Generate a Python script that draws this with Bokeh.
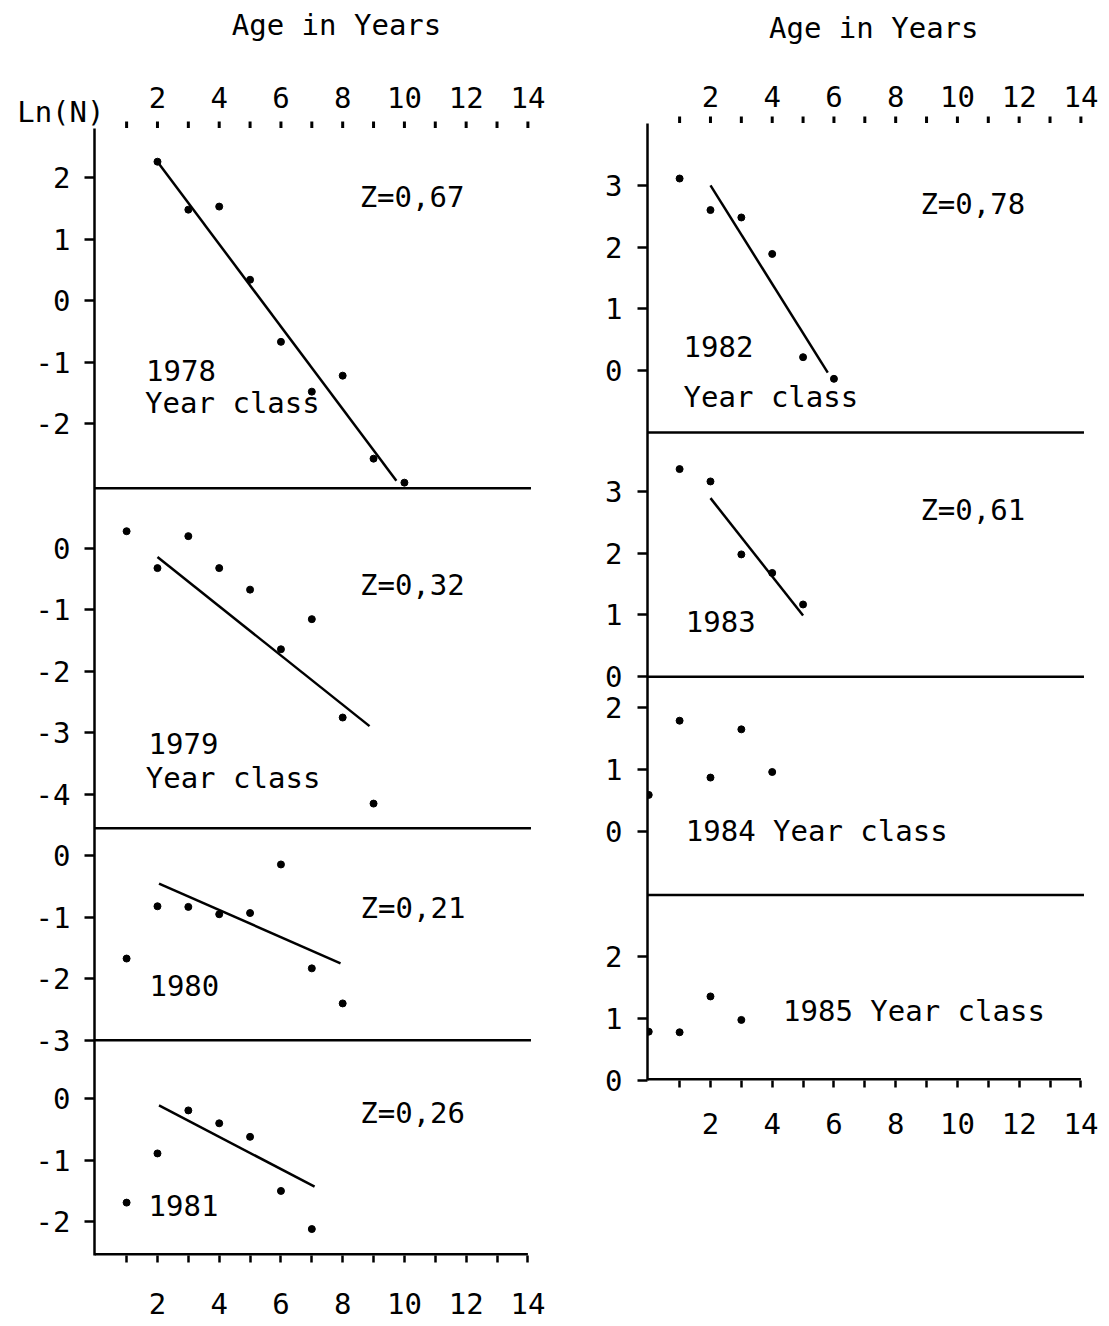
from bokeh.plotting import figure
from bokeh.models import Range1d, FixedTicker
from bokeh.layouts import row, column
from bokeh.embed import file_html
from bokeh.resources import INLINE
from bokeh.core.properties import value

# ---------------- data ----------------
age_1978 = [2, 3, 4, 5, 6, 7, 8, 9, 10]
lnN_1978 = [2.26, 1.48, 1.53, 0.34, -0.67, -1.48, -1.22, -2.57, -2.96]
fit_age_1978 = [2.0, 9.74]
fit_lnN_1978 = [2.26, -2.93]
Z_1978 = "Z=0,67"

age_1979 = [1, 2, 3, 4, 5, 6, 7, 8, 9]
lnN_1979 = [0.28, -0.32, 0.20, -0.32, -0.67, -1.64, -1.15, -2.75, -4.15]
fit_age_1979 = [2.0, 8.87]
fit_lnN_1979 = [-0.14, -2.89]
Z_1979 = "Z=0,32"

age_1980 = [1, 2, 3, 4, 5, 6, 7, 8]
lnN_1980 = [-1.67, -0.82, -0.83, -0.95, -0.93, -0.14, -1.83, -2.40]
fit_age_1980 = [2.05, 7.93]
fit_lnN_1980 = [-0.45, -1.75]
Z_1980 = "Z=0,21"

age_1981 = [1, 2, 3, 4, 5, 6, 7]
lnN_1981 = [-1.69, -0.89, -0.19, -0.40, -0.62, -1.50, -2.12]
fit_age_1981 = [2.05, 7.09]
fit_lnN_1981 = [-0.11, -1.43]
Z_1981 = "Z=0,26"

age_1982 = [1, 2, 3, 4, 5, 6]
lnN_1982 = [3.11, 2.60, 2.48, 1.89, 0.22, -0.13]
fit_age_1982 = [2.0, 5.8]
fit_lnN_1982 = [3.0, -0.03]
Z_1982 = "Z=0,78"

age_1983 = [1, 2, 3, 4, 5]
lnN_1983 = [3.36, 3.16, 1.98, 1.68, 1.17]
fit_age_1983 = [2.0, 5.0]
fit_lnN_1983 = [2.89, 0.99]
Z_1983 = "Z=0,61"

age_1984 = [0, 1, 2, 3, 4]
lnN_1984 = [0.59, 1.79, 0.87, 1.65, 0.96]

age_1985 = [0, 1, 2, 3]
lnN_1985 = [0.79, 0.78, 1.36, 0.98]

yticks_1978 = [2, 1, 0, -1, -2]
yticks_1979 = [0, -1, -2, -3, -4]
yticks_1980 = [0, -1, -2, -3]
yticks_1981 = [0, -1, -2]
yticks_1982 = [3, 2, 1, 0]
yticks_1983 = [3, 2, 1, 0]
yticks_1984 = [2, 1, 0]
yticks_1985 = [2, 1, 0]

age_ticks = list(range(1, 15))
age_tick_labels = {t: (str(t) if t % 2 == 0 else "") for t in age_ticks}

x_title = "Age in Years"
y_title = "Ln(N)"

# ---------------- layout (positions / styles) ----------------
FONT = "DejaVu Sans Mono"
FS = "29px"
LW = 2.5
XMIN, XMAX = -0.04, 14.7      # frame extent in age units
SEP_END = 14.1                # separators end here
AXIS_END = 14.0               # bottom axis line ends at the last tick
UX = 30.9                     # pixels per age unit
FW = int(round((XMAX - XMIN) * UX))

left_panels = [
    dict(name="p1978", ylim=(-3.05, 2.80), ticks=yticks_1978, x=age_1978, y=lnN_1978,
         fx=fit_age_1978, fy=fit_lnN_1978,
         texts=[(8.55, 1.69, Z_1978), (1.63, -1.14, "1978"), (1.60, -1.67, "Year class")]),
    dict(name="p1979", ylim=(-4.55, 0.98), ticks=yticks_1979, x=age_1979, y=lnN_1979,
         fx=fit_age_1979, fy=fit_lnN_1979,
         texts=[(8.56, -0.59, Z_1979), (1.71, -3.18, "1979"), (1.62, -3.74, "Year class")]),
    dict(name="p1980", ylim=(-3.0, 0.45), ticks=yticks_1980, x=age_1980, y=lnN_1980,
         fx=fit_age_1980, fy=fit_lnN_1980,
         texts=[(8.58, -0.85, Z_1980), (1.74, -2.11, "1980")]),
    dict(name="p1981", ylim=(-2.55, 0.95), ticks=yticks_1981, x=age_1981, y=lnN_1981,
         fx=fit_age_1981, fy=fit_lnN_1981,
         texts=[(8.57, -0.24, Z_1981), (1.71, -1.74, "1981")]),
]

right_panels = [
    dict(name="p1982", ylim=(-1.0, 4.0), ticks=yticks_1982, x=age_1982, y=lnN_1982,
         fx=fit_age_1982, fy=fit_lnN_1982,
         texts=[(8.8, 2.69, Z_1982), (1.13, 0.39, "1982"), (1.13, -0.42, "Year class")]),
    dict(name="p1983", ylim=(0.0, 3.95), ticks=yticks_1983, x=age_1983, y=lnN_1983,
         fx=fit_age_1983, fy=fit_lnN_1983,
         texts=[(8.8, 2.70, Z_1983), (1.2, 0.90, "1983")]),
    dict(name="p1984", ylim=(-1.03, 2.5), ticks=yticks_1984, x=age_1984, y=lnN_1984,
         fx=None, fy=None,
         texts=[(1.2, 0.0, "1984 Year class")]),
    dict(name="p1985", ylim=(0.0, 3.0), ticks=yticks_1985, x=age_1985, y=lnN_1985,
         fx=None, fy=None,
         texts=[(4.35, 1.13, "1985 Year class")]),
]


def style_axis(ax):
    ax.axis_line_width = LW
    ax.axis_line_color = "black"
    ax.major_tick_line_width = LW
    ax.major_tick_line_color = "black"
    ax.minor_tick_line_color = None
    ax.major_tick_in = 0
    ax.major_label_text_font = FONT
    ax.major_label_text_font_size = FS
    ax.major_label_text_color = "black"


def text_kw(align="center"):
    return dict(text_font=value(FONT), text_font_size=value(FS), text_color="black",
                text_align=align, text_baseline="middle")


def base_fig(height, border_l, border_b):
    f = figure(frame_width=FW, frame_height=height,
               x_range=Range1d(XMIN, XMAX),
               output_backend="svg", toolbar_location=None, title=None,
               min_border_left=border_l, min_border_right=0,
               min_border_top=0, min_border_bottom=border_b)
    f.outline_line_color = None
    f.grid.visible = False
    return f


def build_header(border_l, height, label_y, title_xy, ln_y=None, ln_standoff=0):
    # strip above a column: top age ticks (marks only), their labels, titles
    h = base_fig(height, border_l, 0)
    h.y_range = Range1d(0, height)
    h.xaxis.visible = False
    h.segment(x0=age_ticks, y0=[0] * len(age_ticks), x1=age_ticks, y1=[7] * len(age_ticks),
              line_color="black", line_width=3)
    lab_x = [t for t in age_ticks if age_tick_labels[t]]
    lab_t = [age_tick_labels[t] for t in lab_x]
    h.text(x=lab_x, y=[label_y] * len(lab_x), text=lab_t, **text_kw())
    h.text(x=[title_xy[0]], y=[title_xy[1]], text=[x_title], **text_kw())
    yax = h.yaxis[0]
    if ln_y is None:
        yax.visible = False
    else:
        style_axis(yax)
        yax.axis_line_color = None
        yax.major_tick_line_color = None
        yax.major_tick_out = 0
        yax.ticker = FixedTicker(ticks=[ln_y])
        yax.major_label_overrides = {ln_y: y_title}
        yax.major_label_standoff = ln_standoff
    return h


def build_column(panels, ppu, border_l, border_b, bottom_standoff, ylab_standoff):
    total = sum(p["ylim"][1] - p["ylim"][0] for p in panels)
    frame_h = int(round(total * ppu))
    fig = base_fig(frame_h, border_l, border_b)
    fig.y_range = Range1d(0, total)

    extra = {}
    base = total
    bases = []
    ypos, ylab = [], {}
    for pn in panels:
        lo, hi = pn["ylim"]
        base -= (hi - lo)
        bases.append(base)
        off = lo - base
        extra[pn["name"]] = Range1d(off, off + total)
        for t in pn["ticks"]:
            pos = round(base + (t - lo), 6)
            ypos.append(pos)
            ylab[pos] = str(t)
    fig.extra_y_ranges = extra

    # panel separators and the bottom axis line (stops at the last tick)
    sep_y = bases[:-1]
    fig.segment(x0=[XMIN] * len(sep_y), y0=sep_y, x1=[SEP_END] * len(sep_y), y1=sep_y,
                line_color="black", line_width=LW)
    fig.segment(x0=[XMIN], y0=[0], x1=[AXIS_END], y1=[0],
                line_color="black", line_width=2 * LW)

    for pn in panels:
        if pn["fx"] is not None:
            fig.line(pn["fx"], pn["fy"], line_color="black", line_width=2.5,
                     y_range_name=pn["name"])
        fig.scatter(pn["x"], pn["y"], size=7, color="black", y_range_name=pn["name"])
        tx = [t[0] for t in pn["texts"]]
        ty = [t[1] for t in pn["texts"]]
        tt = [t[2] for t in pn["texts"]]
        fig.text(x=tx, y=ty, text=tt, y_range_name=pn["name"], **text_kw("left"))

    yax = fig.yaxis[0]
    style_axis(yax)
    yax.ticker = FixedTicker(ticks=ypos)
    yax.major_label_overrides = ylab
    yax.major_tick_out = 10
    yax.major_label_standoff = ylab_standoff

    xax = fig.xaxis[0]
    style_axis(xax)
    xax.axis_line_color = None
    xax.ticker = FixedTicker(ticks=age_ticks)
    xax.major_label_overrides = age_tick_labels
    xax.major_tick_out = 7
    xax.major_label_standoff = bottom_standoff
    return fig


# left column: age 0 at x~95, header 128 px tall
left_head = build_header(94, 128, label_y=31, title_xy=(7.8, 104), ln_y=17, ln_standoff=-10)
left_main = build_column(left_panels, ppu=61.5, border_l=94, border_b=70,
                         bottom_standoff=30, ylab_standoff=14)

# right column: age 0 at x~648, header 123 px tall
right_head = build_header(98, 123, label_y=27, title_xy=(7.29, 96))
right_main = build_column(right_panels, ppu=61.8, border_l=98, border_b=70,
                          bottom_standoff=25, ylab_standoff=15)

layout = row(column(left_head, left_main), column(right_head, right_main))
open("out.html", "w").write(file_html(layout, INLINE))
